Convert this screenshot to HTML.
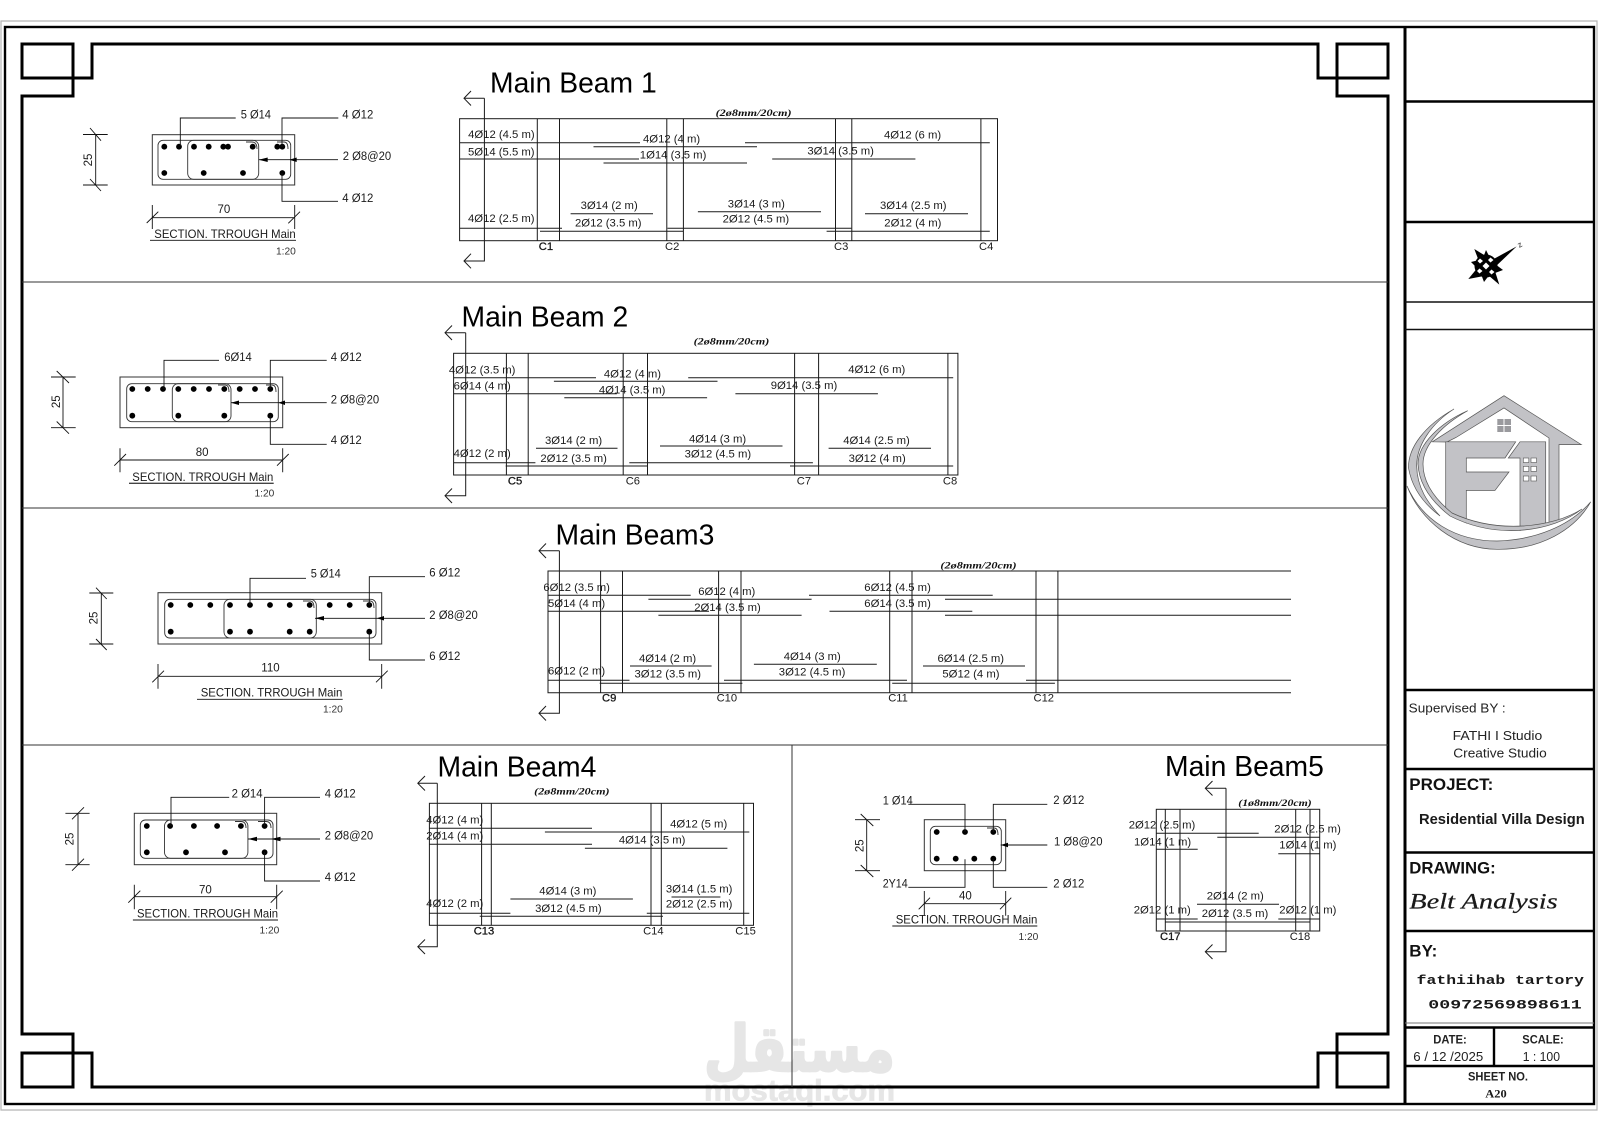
<!DOCTYPE html>
<html><head><meta charset="utf-8"><title>Belt Analysis</title>
<style>
html,body{margin:0;padding:0;background:#fff;width:1600px;height:1131px;overflow:hidden}
svg{display:block}
text{font-family:"Liberation Sans",sans-serif;font-size:11.3px;fill:#1a1a1a}
.bm text:not(.t){transform:translateY(-.7px)}
.s{font-size:11.5px}
.l{font-size:12px}
.sm{font-size:10.2px;fill:#333}
.t{font-size:28.3px;fill:#000}
.c{font-size:11.2px}
.cb{font-size:11.2px;stroke:#111;stroke-width:.3}
.st{font-family:"Liberation Serif",serif;font-style:italic;font-weight:bold;font-size:9.5px;fill:#111}
.ln{fill:none;stroke:#1a1a1a;stroke-width:1}
.ld{fill:none;stroke:#111;stroke-width:.9}
.f{fill:none;stroke:#000;stroke-width:3}
.b{fill:none;stroke:#000;stroke-width:2.4}
.g{fill:none;stroke:#333;stroke-width:1}
.r{fill:none;stroke:#333;stroke-width:.9}
.h{font-weight:bold;font-size:17px;fill:#111}
.tb{font-size:13px;fill:#222}
.bs{font-weight:bold;font-size:11.5px;fill:#222}
</style></head><body>
<svg width="1600" height="1131" viewBox="0 0 1600 1131" xmlns="http://www.w3.org/2000/svg">
<rect width="1600" height="1131" fill="#fff"/>

<!-- watermark -->
<text x="895" y="1071" textLength="191" lengthAdjust="spacingAndGlyphs" style="font-family:'DejaVu Sans','Liberation Sans',sans-serif;font-weight:bold;font-size:64px;fill:#e6e6e6;stroke:#e6e6e6;stroke-width:2.5;stroke-linejoin:round" direction="rtl" text-anchor="start">مستقل</text>
<text x="704" y="1100.7" textLength="191" lengthAdjust="spacingAndGlyphs" style="font-family:'Liberation Sans',sans-serif;font-weight:bold;font-size:30px;fill:#e6e6e6;stroke:#e6e6e6;stroke-width:.8">mostaql.com</text>

<!-- sheet frames -->
<path d="M1 1110V21H1597V1110Z" fill="none" stroke="#b5b5b5" stroke-width="1.2"/>
<rect x="5" y="27" width="1589" height="1077" fill="none" stroke="#000" stroke-width="2.4"/>
<path class="f" d="M22 96H73V78H92V44H1318V78H1337V96H1388V1034H1337V1053H1318V1087H92V1053H73V1034H22Z"/>
<rect class="f" x="22" y="44" width="51" height="34"/>
<rect class="f" x="1337" y="44" width="51" height="34"/>
<rect class="f" x="22" y="1053" width="51" height="34"/>
<rect class="f" x="1337" y="1053" width="51" height="34"/>
<path d="M22 282H1388M22 508H1388M22 745H1388M792 745V1087" fill="none" stroke="#333" stroke-width="1"/>

<!-- title block -->
<path class="f" d="M1405 27V1104"/>
<path class="b" d="M1405 101.500H1594M1405 222H1594M1405 690H1594M1405 769H1594M1405 852.500H1594M1405 931H1594M1405 1027.500H1594M1405 1066H1594M1494 1027.500V1066"/>
<path d="M1405 302H1594M1405 329.500H1594" fill="none" stroke="#111" stroke-width="1.5"/>
<path d="M1405 1023H1594" fill="none" stroke="#777" stroke-width="1"/>

<!-- compass -->
<g>
<polygon points="1516.700,246.400 1490,261 1494,268" fill="#000"/>
<polygon points="1474.300,249 1489,258 1480,264" fill="#000"/>
<polygon points="1468.300,279 1479,266 1484,276" fill="#000"/>
<polygon points="1499.300,284.600 1488,275 1494,268" fill="#000"/>
<polygon points="1486,250 1483,258 1490,258" fill="#000"/>
<polygon points="1471,262 1479,260 1479,270" fill="#000"/>
<polygon points="1484,282 1481,274 1490,274" fill="#000"/>
<polygon points="1503,270 1495,264 1495,273" fill="#000"/>
<circle cx="1486" cy="266" r="11.500" fill="#000"/>
<polygon points="1486,262.500 1489.500,266 1486,269.500 1482.500,266" fill="#fff"/>
<polygon points="1480,258.500 1483,261 1480,263.500 1477.500,261" fill="#fff"/>
<polygon points="1490.500,257.500 1493.500,260 1490.500,262.500 1488,260" fill="#fff"/>
<polygon points="1479.500,268.500 1482.500,271 1479.500,273.500 1477,271" fill="#fff"/>
<polygon points="1491.500,269.500 1494.500,272 1491.500,274.500 1489,272" fill="#fff"/>
<text x="1517.500" y="247" style="font-size:8px" transform="rotate(-30 1520 244)">z</text>
</g>

<!-- logo -->
<g stroke="#555" stroke-width=".7" fill="#c2c2c6">
<path d="M1432.300 441.800L1504 395.700L1581.300 444.600H1559V521L1549 524V438L1504 407.900L1456 437.500L1447 442Z"/>
<path d="M1445.700 441.800H1515.700L1505 458H1466.300V472H1509L1495 490.400H1466.300V523L1445.700 510.700Z"/>
<path d="M1520 441.800H1545.700V525L1520 530.400V458H1508.300Z"/>
<path d="M1454 409C1424 426 1408 448 1408.500 468C1412 488 1424 504 1440 516C1428 503 1417 488 1416.700 466C1416.500 445 1432 423 1454 409Z"/>
<path d="M1467.700 410.700C1440 423 1418 444 1418 464C1419 485 1432 502 1450 516C1497 540 1552 532 1582 509C1552 528 1497 534 1452 513C1436 500 1423 484 1423 464C1423 444 1444 424 1467.700 410.700Z"/>
<path d="M1407 486C1420 520 1455 549 1497 549.300C1540 550 1575 530 1590.700 501.800C1570 526 1535 540 1497 541C1455 541 1422 520 1407 486Z"/>
</g>
<g fill="#fff" stroke="#555" stroke-width=".6">
<rect x="1523.300" y="458" width="5.500" height="4.500"/><rect x="1531" y="458" width="5.500" height="4.500"/>
<rect x="1523.300" y="466.400" width="5.500" height="5"/><rect x="1531" y="466.400" width="5.500" height="5"/>
<rect x="1523.300" y="476" width="5.500" height="5"/><rect x="1531" y="476" width="5.500" height="5"/>
</g>
<rect x="1497.300" y="419" width="13.700" height="13" fill="#9a9a9e"/>
<path d="M1504 419V432M1497.300 425.500H1511" stroke="#fff" stroke-width="1"/>

<!-- title block text -->
<text class="tb" x="1408.700" y="712.300" textLength="97" lengthAdjust="spacingAndGlyphs">Supervised BY :</text>
<text class="tb" x="1452.700" y="740" textLength="89.600" lengthAdjust="spacingAndGlyphs">FATHI I Studio</text>
<text class="tb" x="1453.300" y="757.300" textLength="93.400" lengthAdjust="spacingAndGlyphs">Creative Studio</text>
<text class="h" x="1409.300" y="790" textLength="84" lengthAdjust="spacingAndGlyphs">PROJECT:</text>
<text x="1419" y="824" textLength="165.700" lengthAdjust="spacingAndGlyphs" style="font-weight:bold;font-size:14.500px">Residential Villa Design</text>
<text class="h" x="1409.300" y="873.300" textLength="86.400" lengthAdjust="spacingAndGlyphs">DRAWING:</text>
<text x="1409.300" y="908.300" textLength="148.400" lengthAdjust="spacingAndGlyphs" style="font-family:'Liberation Serif',serif;font-style:italic;font-size:22px;stroke:#1a1a1a;stroke-width:.2">Belt  Analysis</text>
<text class="h" x="1409.300" y="956.700" textLength="28" lengthAdjust="spacingAndGlyphs">BY:</text>
<text x="1416.700" y="984" textLength="167.300" lengthAdjust="spacingAndGlyphs" style="font-family:'Liberation Mono',monospace;font-weight:bold;font-size:13px">fathiihab tartory</text>
<text x="1428.300" y="1008.300" textLength="153.400" lengthAdjust="spacingAndGlyphs" style="font-family:'Liberation Mono',monospace;font-weight:bold;font-size:13px">00972569898611</text>
<text class="bs" x="1433.300" y="1043.700" textLength="33.400" lengthAdjust="spacingAndGlyphs">DATE:</text>
<text class="bs" x="1522.300" y="1043.700" textLength="41.400" lengthAdjust="spacingAndGlyphs">SCALE:</text>
<text class="tb" x="1413.300" y="1061" textLength="70" lengthAdjust="spacingAndGlyphs">6 / 12 /2025</text>
<text class="tb" x="1522.700" y="1061" textLength="37.300" lengthAdjust="spacingAndGlyphs">1 : 100</text>
<text class="bs" x="1468" y="1080.700" textLength="60" lengthAdjust="spacingAndGlyphs">SHEET NO.</text>
<text x="1485.300" y="1097.300" textLength="21.400" lengthAdjust="spacingAndGlyphs" style="font-family:'Liberation Serif',serif;font-weight:bold;font-size:12px">A20</text>

<!-- ============ SECTION 1 ============ -->
<g>
<rect class="g" x="152.300" y="134.700" width="142.400" height="50.300"/>
<rect class="r" x="158" y="140.300" width="132.700" height="39" rx="5"/>
<rect class="r" x="187.700" y="140.300" width="71" height="39" rx="6"/>
<path class="r" d="M246 142H252Q257 142 257 149M277 142H284Q288 142 288 149"/>
<g fill="#000"><circle cx="164.300" cy="146.700" r="2.900"/><circle cx="179" cy="146.700" r="2.900"/><circle cx="194" cy="146.700" r="2.900"/><circle cx="208.700" cy="146.700" r="2.900"/><circle cx="223.300" cy="146.700" r="2.900"/><circle cx="228" cy="146.700" r="2.900"/><circle cx="252.700" cy="146.700" r="2.900"/><circle cx="277.300" cy="146.700" r="2.900"/><circle cx="282.300" cy="146.700" r="2.900"/><circle cx="164.300" cy="173" r="2.900"/><circle cx="203.700" cy="173" r="2.900"/><circle cx="243" cy="173" r="2.900"/><circle cx="282.300" cy="173" r="2.900"/></g>
<path class="ld" d="M180.300 146V118H235.700M282 147V118H338.300M338 159.700H258.700M282 173V201.300H338"/>
<polygon points="258.700,159.700 267.700,157.500 267.700,162" fill="#000"/><polygon points="289.300,159.700 296.700,157.500 296.700,162" fill="#000"/>
<path class="ld" d="M95.700 134V185M83 134.500H107.700M83 185H107.700M90 128L101 140.700M90 179L101 191M152.300 217.700H294.700M152.300 205V229M294.700 205V229M146.700 223L158.300 211.700M288.300 223.300L300 211.700M150 240.300H296"/>
<text class="s" x="240.700" y="118.700" textLength="30.300" lengthAdjust="spacingAndGlyphs">5 Ø14</text>
<text class="s" x="342.300" y="118.700" textLength="31" lengthAdjust="spacingAndGlyphs">4 Ø12</text>
<text class="s" x="342.700" y="160" textLength="48.500" lengthAdjust="spacingAndGlyphs">2 Ø8@20</text>
<text class="s" x="342.300" y="202" textLength="31" lengthAdjust="spacingAndGlyphs">4 Ø12</text>
<text class="s" text-anchor="middle" transform="translate(92 160) rotate(-90)">25</text>
<text class="s" x="217.500" y="213">70</text>
<text class="l" x="154.300" y="238" textLength="141.400" lengthAdjust="spacingAndGlyphs">SECTION. TRROUGH Main</text>
<text class="sm" x="276" y="254.300">1:20</text>
</g>

<!-- ============ BEAM 1 ============ -->
<g class="bm">
<text class="t" x="490" y="92.300">Main Beam 1</text>
<text class="st" x="715.600" y="116.700" textLength="76" lengthAdjust="spacingAndGlyphs">(2ø8mm/20cm)</text>
<rect class="ln" x="459.600" y="118.700" width="537.900" height="122"/>
<path class="ln" d="M484.400 98.300V261H464M484.400 98.300H464M471 91L464 98.300L471 105.500M471 253.700L464 261L471 268.300"/>
<path class="ln" d="M537.300 118.700V240.700M559.500 118.700V240.700M666.800 118.700V240.700M683.400 118.700V240.700M835.500 118.700V240.700M851.800 118.700V240.700M980.900 118.700V240.700"/>
<path class="ln" d="M459.600 142.700H640M745 142.700H989.800M593.500 146.700H757M459.600 159H639M772.200 159H915.400M603.500 163H747M570.600 213.700H653M865 213.700H968M697.900 211.700H821M459.600 228.300H562M667.500 228.300H851.400M540 231.300H683.400M826.600 231.300H989.800"/>
<text x="468.100" y="138.700">4Ø12 (4.5 m)</text>
<text x="643" y="143.300">4Ø12 (4 m)</text>
<text x="884" y="139">4Ø12 (6 m)</text>
<text x="468" y="156">5Ø14 (5.5 m)</text>
<text x="639.800" y="159">1Ø14 (3.5 m)</text>
<text x="807.400" y="155">3Ø14 (3.5 m)</text>
<text x="580.600" y="209.700">3Ø14 (2 m)</text>
<text x="727.800" y="208.300">3Ø14 (3 m)</text>
<text x="880" y="209.700">3Ø14 (2.5 m)</text>
<text x="468" y="222.700">4Ø12 (2.5 m)</text>
<text x="575" y="227.300">2Ø12 (3.5 m)</text>
<text x="722.600" y="223.300">2Ø12 (4.5 m)</text>
<text x="884.300" y="227.300">2Ø12 (4 m)</text>
<text class="cb" x="538.800" y="250.700">C1</text>
<text class="c" x="665" y="250.700">C2</text>
<text class="c" x="834" y="250.700">C3</text>
<text class="c" x="979" y="250.700">C4</text>
</g>

<!-- ============ SECTION 2 ============ -->
<g>
<rect class="g" x="120" y="377" width="162.700" height="50.700"/>
<rect class="r" x="126.700" y="383.700" width="151.600" height="38" rx="5"/>
<rect class="r" x="172.300" y="383.700" width="58.700" height="38" rx="6"/>
<path class="r" d="M218 385H225Q229 385 229 392M266 385H272Q276 385 276 392"/>
<g fill="#000"><circle cx="132.300" cy="389" r="2.900"/><circle cx="147.700" cy="389" r="2.900"/><circle cx="163" cy="389" r="2.900"/><circle cx="178.300" cy="389" r="2.900"/><circle cx="193.700" cy="389" r="2.900"/><circle cx="209" cy="389" r="2.900"/><circle cx="224.300" cy="389" r="2.900"/><circle cx="239.700" cy="389" r="2.900"/><circle cx="255" cy="389" r="2.900"/><circle cx="270.300" cy="389" r="2.900"/><circle cx="132.300" cy="415.700" r="2.900"/><circle cx="178.300" cy="415.700" r="2.900"/><circle cx="224.300" cy="415.700" r="2.900"/><circle cx="270.300" cy="415.700" r="2.900"/></g>
<path class="ld" d="M164 389V360.300H219M270.300 389V360.300H326.700M326.700 402.700H231M270.300 415.700V444.300H326.700"/>
<polygon points="231,402.700 239,400.500 239,405" fill="#000"/><polygon points="278.300,402.700 285,400.500 285,405" fill="#000"/>
<path class="ld" d="M63 377V427.700M51 377H75.700M51 427.700H75.700M56.700 371L69 383M56.700 421.500L69 433.700M120 460H282.700M120 448.300V472.300M282.700 448.300V472.300M114.300 465.700L126 454M277 465.700L288.700 454"/>
<path d="M129 483.300H273.700" fill="none" stroke="#444" stroke-width="1.400"/>
<text class="s" x="224.300" y="361" textLength="27.500" lengthAdjust="spacingAndGlyphs">6Ø14</text>
<text class="s" x="330.700" y="361" textLength="31" lengthAdjust="spacingAndGlyphs">4 Ø12</text>
<text class="s" x="330.700" y="403.300" textLength="48.500" lengthAdjust="spacingAndGlyphs">2 Ø8@20</text>
<text class="s" x="330.700" y="444" textLength="31" lengthAdjust="spacingAndGlyphs">4 Ø12</text>
<text class="s" text-anchor="middle" transform="translate(60 401.700) rotate(-90)">25</text>
<text class="s" x="195.700" y="456">80</text>
<text class="l" x="132.300" y="481" textLength="141" lengthAdjust="spacingAndGlyphs">SECTION. TRROUGH Main</text>
<text class="sm" x="254.500" y="496.700">1:20</text>
</g>

<!-- ============ BEAM 2 ============ -->
<g class="bm">
<text class="t" x="461.500" y="326.700">Main Beam 2</text>
<text class="st" x="693.600" y="345.300" textLength="75.700" lengthAdjust="spacingAndGlyphs">(2ø8mm/20cm)</text>
<rect class="ln" x="453.600" y="353.300" width="504.300" height="121.700"/>
<path class="ln" d="M465.700 332.700V495.700H445M465.700 332.700H445M452 325.500L445 332.700L452 340M452 488.500L445 495.700L452 503"/>
<path class="ln" d="M506.400 353.300V475M528.200 353.300V475M623.200 353.300V475M647.500 353.300V475M794.600 353.300V475M818.600 353.300V475M947.900 353.300V475"/>
<path class="ln" d="M453.600 377.700H596M688.200 377.700H953.200M553.900 381.300H717.500M453.600 393.700H616.800M735.400 393.700H877.900M564.300 397.700H707.100M536 448.300H617.500M828.600 448.300H931M660 446H782.500M453.600 462.700H535.400M629.300 462.700H812.900M505.700 466H647.500M790 466H953.200"/>
<text x="448.900" y="374.300">4Ø12 (3.5 m)</text>
<text x="453.600" y="390">6Ø14 (4 m)</text>
<text x="603.900" y="378.300">4Ø12 (4 m)</text>
<text x="598.900" y="394.300">4Ø14 (3.5 m)</text>
<text x="848.200" y="373.700">4Ø12 (6 m)</text>
<text x="770.700" y="389.700">9Ø14 (3.5 m)</text>
<text x="545" y="444.700">3Ø14 (2 m)</text>
<text x="540.400" y="462.700">2Ø12 (3.5 m)</text>
<text x="689" y="443.300">4Ø14 (3 m)</text>
<text x="684.600" y="458.300">3Ø12 (4.5 m)</text>
<text x="843.200" y="444.700">4Ø14 (2.5 m)</text>
<text x="848.600" y="462.700">3Ø12 (4 m)</text>
<text x="453.600" y="457.700">4Ø12 (2 m)</text>
<text class="cb" x="507.900" y="485">C5</text>
<text class="c" x="625.700" y="485">C6</text>
<text class="c" x="796.800" y="485">C7</text>
<text class="c" x="942.900" y="485">C8</text>
</g>

<!-- ============ SECTION 3 ============ -->
<g>
<rect class="g" x="158" y="592.700" width="223.700" height="51.300"/>
<rect class="r" x="164.700" y="599.300" width="211.300" height="38.700" rx="5"/>
<rect class="r" x="224" y="599.300" width="92.300" height="38.700" rx="6"/>
<path class="r" d="M303 601H310Q314 601 314 608M363 601H370Q374 601 374 608"/>
<g fill="#000"><circle cx="170.700" cy="605" r="2.900"/><circle cx="190.300" cy="605" r="2.900"/><circle cx="210.300" cy="605" r="2.900"/><circle cx="230" cy="605" r="2.900"/><circle cx="250" cy="605" r="2.900"/><circle cx="270" cy="605" r="2.900"/><circle cx="289.700" cy="605" r="2.900"/><circle cx="309.700" cy="605" r="2.900"/><circle cx="329.700" cy="605" r="2.900"/><circle cx="349.700" cy="605" r="2.900"/><circle cx="369.300" cy="605" r="2.900"/><circle cx="170.700" cy="631.700" r="2.900"/><circle cx="230" cy="631.700" r="2.900"/><circle cx="250" cy="631.700" r="2.900"/><circle cx="289.700" cy="631.700" r="2.900"/><circle cx="309.700" cy="631.700" r="2.900"/><circle cx="369.300" cy="631.700" r="2.900"/></g>
<path class="ld" d="M250 605V578.300H306M369.300 605V576.700H425M425 618.300H315M369.300 632V660H425"/>
<polygon points="315,618.300 324,616 324,620.500" fill="#000"/><polygon points="376.700,618.300 384,616 384,620.500" fill="#000"/>
<path class="ld" d="M101.300 593V644M89.300 593H113.300M89.300 644H113.300M96 587.700L106.700 599M96 639L106.700 650M158 676.300H381.700M158 664V688.700M381.700 664V688.700M152.300 682.300L164 670.700M376 682.300L387.700 670.700M197 699.300H342.700"/>
<text class="s" x="310.700" y="577.700" textLength="30" lengthAdjust="spacingAndGlyphs">5 Ø14</text>
<text class="s" x="429.300" y="576.700" textLength="31" lengthAdjust="spacingAndGlyphs">6 Ø12</text>
<text class="s" x="429.300" y="619" textLength="48.500" lengthAdjust="spacingAndGlyphs">2 Ø8@20</text>
<text class="s" x="429.300" y="660" textLength="31" lengthAdjust="spacingAndGlyphs">6 Ø12</text>
<text class="s" text-anchor="middle" transform="translate(97.500 618) rotate(-90)">25</text>
<text class="s" x="261.300" y="671.700">110</text>
<text class="l" x="200.700" y="696.700" textLength="141.600" lengthAdjust="spacingAndGlyphs">SECTION. TRROUGH Main</text>
<text class="sm" x="323" y="712.300">1:20</text>
</g>

<!-- ============ BEAM 3 ============ -->
<g class="bm">
<text class="t" x="555.500" y="544.300">Main Beam3</text>
<text class="st" x="940.400" y="569" textLength="76.200" lengthAdjust="spacingAndGlyphs">(2ø8mm/20cm)</text>
<path class="ln" d="M1291 571H548V692.700H1291"/>
<path class="ln" d="M559.400 550.700V713.300H539M559.400 550.700H539M546 543.500L539 550.700L546 558M546 706L539 713.300L546 720.500"/>
<path class="ln" d="M600.600 571V692.700M622.500 571V692.700M718.600 571V692.700M741 571V692.700M889.700 571V692.700M912 571V692.700M1036 571V692.700M1057.900 571V692.700"/>
<path class="ln" d="M548 595.300H690.700M809 595.300H992.700M648.400 599.300H811.600M945 599.300H1291M548 611.300H709M829.500 611.300H972.300M658.400 615.300H801.600M945 615.300H1291M630 666H711.600M923 666H1025M753.900 664.300H876.800M548 680.300H629.500M724 680.300H907M1026 680.300H1291M599.700 683.300H742.400M892.200 683.300H1054.900"/>
<text x="543.400" y="591.700">6Ø12 (3.5 m)</text>
<text x="548" y="607.700">5Ø14 (4 m)</text>
<text x="698.200" y="595.700">6Ø12 (4 m)</text>
<text x="694.200" y="611.700">2Ø14 (3.5 m)</text>
<text x="864.300" y="591.700">6Ø12 (4.5 m)</text>
<text x="864.300" y="607.700">6Ø14 (3.5 m)</text>
<text x="639" y="662.700">4Ø14 (2 m)</text>
<text x="634.500" y="678.300">3Ø12 (3.5 m)</text>
<text x="783.700" y="660.700">4Ø14 (3 m)</text>
<text x="778.800" y="676">3Ø12 (4.5 m)</text>
<text x="937.500" y="662.700">6Ø14 (2.5 m)</text>
<text x="942.400" y="678.300">5Ø12 (4 m)</text>
<text x="548" y="675">6Ø12 (2 m)</text>
<text class="cb" x="602" y="702.300">C9</text>
<text class="c" x="716.600" y="702.300">C10</text>
<text class="c" x="888.200" y="702.300">C11</text>
<text class="c" x="1033.500" y="702.300">C12</text>
</g>

<!-- ============ SECTION 4 ============ -->
<g>
<rect class="g" x="134.300" y="813.300" width="142.400" height="51.400"/>
<rect class="r" x="140.300" y="820" width="132.700" height="38.300" rx="5"/>
<rect class="r" x="164.500" y="820" width="83.400" height="38.300" rx="6"/>
<path class="r" d="M235 821.500H241Q246 821.500 246 828M258 821.500H266Q271 821.500 271 828"/>
<g fill="#000"><circle cx="146.800" cy="826" r="2.900"/><circle cx="170.100" cy="826" r="2.900"/><circle cx="193.900" cy="826" r="2.900"/><circle cx="217.100" cy="826" r="2.900"/><circle cx="240.900" cy="826" r="2.900"/><circle cx="264.600" cy="826" r="2.900"/><circle cx="146.800" cy="852.300" r="2.900"/><circle cx="186" cy="852.300" r="2.900"/><circle cx="225" cy="852.300" r="2.900"/><circle cx="264.600" cy="852.300" r="2.900"/></g>
<path class="ld" d="M171 826V797.300H229.200M264.600 826V797.300H320M320 839H248M264.600 852.300V881H320"/>
<polygon points="248,839 257,836.800 257,841.200" fill="#000"/><polygon points="271,839 280.500,836.800 280.500,841.200" fill="#000"/>
<path class="ld" d="M78 813.300V864.700M65.400 813.300H89.600M65.400 864.700H89.600M72 819.300L84 807.300M72 870.700L84 858.700M134.300 896.700H276.700M134.300 884.700V909.300M276.700 884.700V909.300M128.300 902.700L140.300 890.700M270.700 902.700L282.700 890.700M132.900 920H278"/>
<text class="s" x="231.600" y="797.700" textLength="31" lengthAdjust="spacingAndGlyphs">2 Ø14</text>
<text class="s" x="324.700" y="797.700" textLength="31" lengthAdjust="spacingAndGlyphs">4 Ø12</text>
<text class="s" x="324.700" y="839.300" textLength="48.500" lengthAdjust="spacingAndGlyphs">2 Ø8@20</text>
<text class="s" x="324.700" y="881" textLength="31" lengthAdjust="spacingAndGlyphs">4 Ø12</text>
<text class="s" text-anchor="middle" transform="translate(73.500 839) rotate(-90)">25</text>
<text class="s" x="199" y="893.300">70</text>
<text class="l" x="137" y="917.700" textLength="141" lengthAdjust="spacingAndGlyphs">SECTION. TRROUGH Main</text>
<text class="sm" x="259.500" y="933.300">1:20</text>
</g>

<!-- ============ BEAM 4 ============ -->
<g class="bm">
<text class="t" x="437.500" y="776.700">Main Beam4</text>
<text class="st" x="534.200" y="795" textLength="75.400" lengthAdjust="spacingAndGlyphs">(2ø8mm/20cm)</text>
<rect class="ln" x="429.400" y="803.300" width="324.100" height="122"/>
<path class="ln" d="M437.300 783.300V946.700H417.800M437.300 783.300H417.800M425 776L417.800 783.300L425 790.500M425 939.500L417.800 946.700L425 954"/>
<path class="ln" d="M481.600 803.300V925.300M491.300 803.300V925.300M651 803.300V925.300M661.300 803.300V925.300M743.700 803.300V925.300"/>
<path class="ln" d="M429.400 828.300H592M544.900 832H749.300M429.400 844.300H592M584.900 848.300H727.400M510.400 899H632.900M671.500 897H720.400M429.400 913.300H510.400M646.800 913.300H749.300M479.700 916.300H663"/>
<text x="426.200" y="824">4Ø12 (4 m)</text>
<text x="426.200" y="840">2Ø14 (4 m)</text>
<text x="670.100" y="828.300">4Ø12 (5 m)</text>
<text x="618.900" y="844.300">4Ø14 (3.5 m)</text>
<text x="539.300" y="895">4Ø14 (3 m)</text>
<text x="535.100" y="912.700">3Ø12 (4.5 m)</text>
<text x="665.900" y="893.300">3Ø14 (1.5 m)</text>
<text x="665.900" y="908.300">2Ø12 (2.5 m)</text>
<text x="426.200" y="907.700">4Ø12 (2 m)</text>
<text class="cb" x="473.700" y="935">C13</text>
<text class="c" x="643.100" y="935">C14</text>
<text class="c" x="735.300" y="935">C15</text>
</g>

<!-- ============ SECTION 5 ============ -->
<g>
<rect class="g" x="924.300" y="819.700" width="81.400" height="51"/>
<rect class="r" x="930.300" y="826.300" width="71" height="38.400" rx="5"/>
<path class="r" d="M987 828H994Q998 828 998 835"/>
<g fill="#000"><circle cx="936.700" cy="832" r="2.900"/><circle cx="965" cy="832" r="2.900"/><circle cx="993.300" cy="832" r="2.900"/><circle cx="936.700" cy="858.700" r="2.900"/><circle cx="955.700" cy="858.700" r="2.900"/><circle cx="974.300" cy="858.700" r="2.900"/><circle cx="993.300" cy="858.700" r="2.900"/></g>
<path class="ld" d="M908.300 804.300H965V832M993.300 832V804.300H1047.300M1047.300 845H1000.700M993.300 858.700V887.300H1047.300M908.300 887.300H965V859.300"/>
<polygon points="1000.700,845 1008,842.800 1008,847.200" fill="#000"/>
<path class="ld" d="M866.700 819.700V870.700M855 819.700H880M855 870.700H880M860.700 814L873.300 826M860.700 865L873.300 877M924.300 903.700H1005.700M924.300 891V915.700M1005.700 891V915.700M918.700 909.300L930 897.700M1000 909.300L1011.300 897.700M892.300 926H1037.300"/>
<text class="s" x="882.700" y="804.300" textLength="30" lengthAdjust="spacingAndGlyphs">1 Ø14</text>
<text class="s" x="1053.300" y="804" textLength="31" lengthAdjust="spacingAndGlyphs">2 Ø12</text>
<text class="s" x="1054" y="845.700" textLength="48.500" lengthAdjust="spacingAndGlyphs">1 Ø8@20</text>
<text class="s" x="1053.300" y="887.300" textLength="31" lengthAdjust="spacingAndGlyphs">2 Ø12</text>
<text class="s" x="882.700" y="887.300" textLength="25" lengthAdjust="spacingAndGlyphs">2Y14</text>
<text class="s" text-anchor="middle" transform="translate(863.300 845.700) rotate(-90)">25</text>
<text class="s" x="959" y="899.300">40</text>
<text class="l" x="895.700" y="923.300" textLength="141.600" lengthAdjust="spacingAndGlyphs">SECTION. TRROUGH Main</text>
<text class="sm" x="1018.500" y="940">1:20</text>
</g>

<!-- ============ BEAM 5 ============ -->
<g class="bm">
<text class="t" x="1165" y="776">Main Beam5</text>
<text class="st" x="1238.300" y="806.700" textLength="73.400" lengthAdjust="spacingAndGlyphs">(1ø8mm/20cm)</text>
<rect class="ln" x="1156.300" y="809.300" width="163.400" height="121.700"/>
<path class="ln" d="M1226 788.300V951.700H1205.300M1226 788.300H1205.300M1212.500 781L1205.300 788.300L1212.500 795.500M1212.500 944.500L1205.300 951.700L1212.500 959"/>
<path class="ln" d="M1165.300 809.300V931M1180 809.300V931M1295.700 809.300V931M1310 809.300V931"/>
<path class="ln" d="M1156.300 833.300H1258.700M1217.300 837.300H1319.700M1156.300 849.300H1197.700M1278.300 853.700H1319.700M1197 904.300H1279M1156.300 919H1197.700M1278.300 919H1319.700M1165.300 922H1310"/>
<text x="1128.700" y="829.300">2Ø12 (2.5 m)</text>
<text x="1134" y="846">1Ø14 (1 m)</text>
<text x="1274.300" y="833.300">2Ø12 (2.5 m)</text>
<text x="1279.300" y="849.300">1Ø14 (1 m)</text>
<text x="1206.700" y="900">2Ø14 (2 m)</text>
<text x="1201.700" y="917.700">2Ø12 (3.5 m)</text>
<text x="1133.700" y="914">2Ø12 (1 m)</text>
<text x="1279.300" y="914">2Ø12 (1 m)</text>
<text class="cb" x="1160" y="940.700">C17</text>
<text class="c" x="1289.700" y="940.700">C18</text>
</g>
</svg>
</body></html>
